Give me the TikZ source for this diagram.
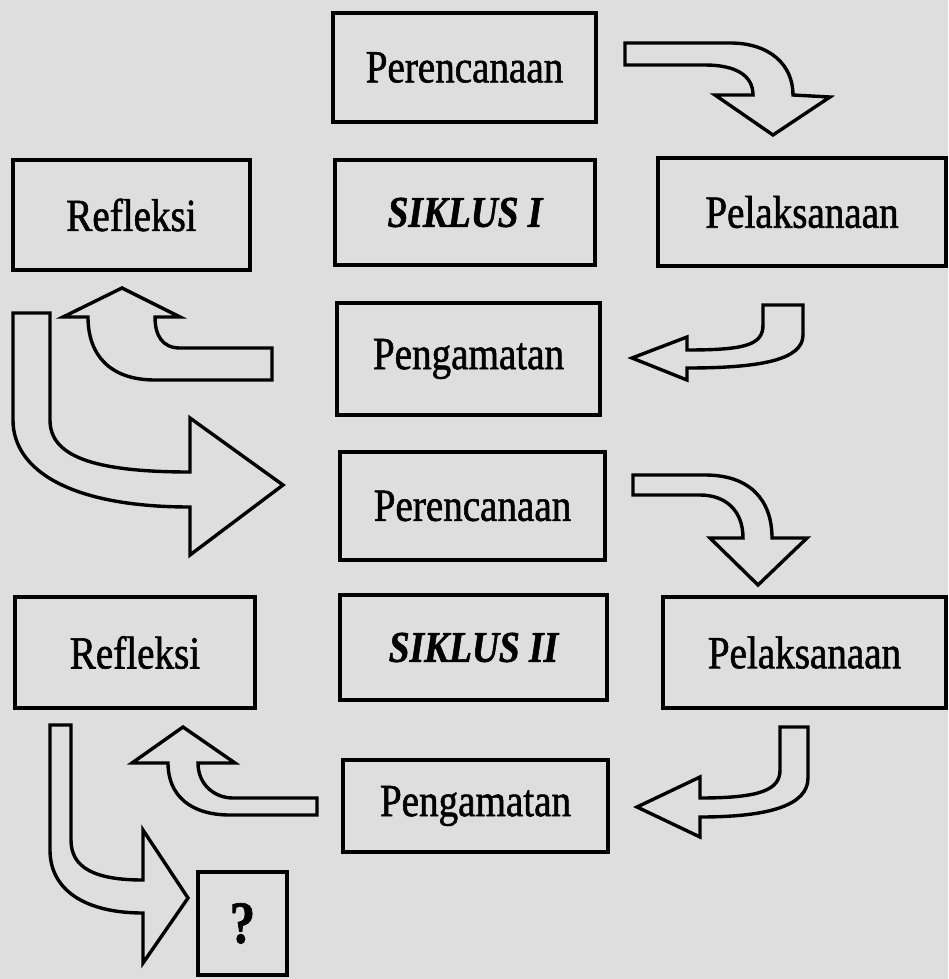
\documentclass[tikz,border=0pt]{standalone}
\usepackage{fontspec}
\setmainfont{Liberation Serif}
\newfontfamily\scanfont{Liberation Serif}[FakeStretch=0.85, FakeBold=1.2]
\usetikzlibrary{positioning}
\definecolor{paper}{gray}{0.87}

\begin{document}
\begin{tikzpicture}[
  x=1pt, y=-1pt,
  stage/.style={draw=black, line width=3.6pt, inner sep=0pt, font=\scanfont\fontsize{46}{50}\selectfont},
  cyclebox/.style={stage, font=\scanfont\fontsize{44}{50}\selectfont\bfseries\itshape},
  blockarrow/.style={draw=black, line width=3.4pt, line join=miter, fill=paper}
]
  \fill[paper] (0,0) rectangle (948,979);
  \useasboundingbox (0,0) rectangle (948,979);

  % first cycle
  \node[stage, minimum width=263pt, minimum height=109pt] (per1) at (464.5,67.5) {Perencanaan};
  \node[cyclebox, minimum width=260pt, minimum height=105pt] (sik1) at (465,212.5) {SIKLUS I};
  \node[stage, minimum width=237pt, minimum height=110pt] (ref1) at (131.5,215) {Refleksi};
  \node[stage, minimum width=288pt, minimum height=108pt] (pel1) at (802,212) {Pelaksanaan};
  \node[stage, minimum width=263pt, minimum height=112pt] (peng1) at (468.5,359) {Pengamatan};

  % second cycle
  \node[stage, minimum width=265pt, minimum height=108pt] (per2) at (472.5,506) {Perencanaan};
  \node[cyclebox, minimum width=267pt, minimum height=105pt] (sik2) at (473.5,647.5) {SIKLUS II};
  \node[stage, minimum width=240pt, minimum height=111pt] (ref2) at (135,652.5) {Refleksi};
  \node[stage, minimum width=283pt, minimum height=111pt] (pel2) at (804.5,652.5) {Pelaksanaan};
  \node[stage, minimum width=265pt, minimum height=92pt] (peng2) at (475.5,806) {Pengamatan};
  \node[stage, font=\scanfont\fontsize{60}{64}\selectfont\bfseries, minimum width=89pt, minimum height=103pt] (next) at (242.5,923.5) {?};

  % block arrows, cycle I
  \draw[blockarrow] (625,43) -- (730,43) .. controls (770,43) and (793,65) .. (793,95)
    -- (830,97) -- (773,135) -- (715,95) -- (753,95)
    .. controls (753,75) and (735,65) .. (705,65) -- (625,65) -- cycle;
  \draw[blockarrow] (763,305) -- (803,305) -- (803,335) .. controls (803,360) and (760,368) .. (687,368)
    -- (687,380) -- (632,358) -- (687,337) -- (687,350)
    .. controls (745,350) and (763,345) .. (763,325) -- cycle;
  \draw[blockarrow] (272,348) -- (272,380) -- (155,380) .. controls (110,380) and (88,355) .. (88,317)
    -- (63,317) -- (122,288) -- (180,317) -- (155,317)
    .. controls (155,335) and (162,348) .. (180,348) -- cycle;
  \draw[blockarrow] (13,313) -- (50,313) -- (50,420) .. controls (50,455) and (90,472) .. (190,472)
    -- (190,418) -- (283,485) -- (190,555) -- (190,507)
    .. controls (70,507) and (13,470) .. (13,420) -- cycle;

  % block arrows, cycle II
  \draw[blockarrow] (633,475) -- (705,475) .. controls (750,475) and (772,500) .. (772,538)
    -- (807,538) -- (758,585) -- (710,538) -- (743,538)
    .. controls (743,510) and (725,495) .. (700,495) -- (633,495) -- cycle;
  \draw[blockarrow] (780,727) -- (808,727) -- (808,778) .. controls (808,805) and (770,817) .. (700,817)
    -- (700,837) -- (637,807) -- (700,777) -- (700,798)
    .. controls (760,798) and (780,790) .. (780,770) -- cycle;
  \draw[blockarrow] (317,798) -- (317,815) -- (230,815) .. controls (190,815) and (168,795) .. (168,763)
    -- (132,763) -- (183,727) -- (235,763) -- (198,763)
    .. controls (198,785) and (215,798) .. (233,798) -- cycle;
  \draw[blockarrow] (50,725) -- (71,725) -- (71,840) .. controls (71,868) and (95,880) .. (143,880)
    -- (143,830) -- (188,898) -- (143,963) -- (143,913)
    .. controls (85,913) and (50,890) .. (50,850) -- cycle;
\end{tikzpicture}
\end{document}
